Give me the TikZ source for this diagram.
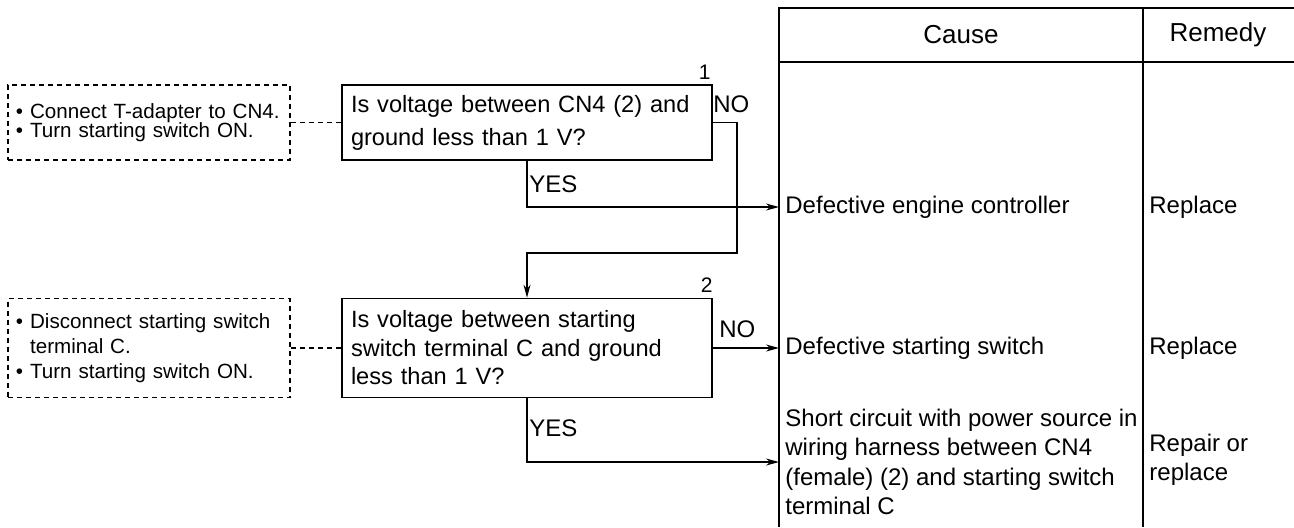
\documentclass[tikz,border=0pt]{standalone}
\usepackage{fontspec}
\setmainfont{Liberation Sans}
\usepackage{tikz}
\usetikzlibrary{
    arrows.meta,
    calc
}
\newcommand{\tightlines}{\lineskiplimit=-5pt\relax}

\begin{document}
\begin{tikzpicture}[x=0.5pt,y=-0.5pt,
    question/.style={draw, line width=0.85pt, text width=176pt, inner xsep=4.5pt, align=left},
    check/.style={draw, dash pattern=on 2.5pt off 2pt, line width=0.6pt, text width=133pt, inner xsep=4pt, align=left},
    entry/.style={anchor=west, inner xsep=3pt, align=left, font=\fontsize{12}{14.75}\selectfont},
    answer/.style={anchor=base west, inner sep=0pt, font=\fontsize{12}{14}\selectfont},
    stepno/.style={anchor=south east, inner sep=0pt, font=\fontsize{10.5}{12}\selectfont},
    flow/.style={line width=0.65pt, -{Stealth[length=6.5pt,width=3.5pt]}},
    link/.style={dash pattern=on 2.5pt off 2pt, line width=0.6pt},
    tabline/.style={line width=0.85pt}
]

\useasboundingbox (0,0) rectangle (1294,527);

% Checks to make
\node[check, minimum height=37.5pt, font=\fontsize{10.3}{9.2}\selectfont\tightlines] (chk1) at (149,122.5)
    {\textbullet\ Connect T-adapter to CN4.\\\textbullet\ Turn starting switch ON.};
\node[check, minimum height=49.5pt, font=\fontsize{10.3}{12.5}\selectfont] (chk2) at (149,348)
    {\textbullet\ Disconnect starting switch\\\phantom{\textbullet\ }terminal C.\\\textbullet\ Turn starting switch ON.};

% Questions
\node[question, minimum height=37.5pt, font=\fontsize{11.8}{16.5}\selectfont] (q1) at (527,122.5)
    {Is voltage between CN4 (2) and\\ground less than 1 V?};
\node[question, minimum height=49.5pt, font=\fontsize{11.8}{14.25}\selectfont] (q2) at (527,348)
    {Is voltage between starting\\switch terminal C and ground\\less than 1 V?};

% Step numbers
\node[stepno] (num1) at ($(q1.north east)+(-2,-4)$) {1};
\node[stepno] (num2) at ($(q2.north east)+(0,-5)$) {2};

% Table frame
\draw[tabline] (779,527) -- (779,8) -- (1294,8);
\draw[tabline] (779,62) -- (1294,62);
\draw[tabline] (1143,8) -- (1143,527);

% Table heading
\node[font=\fontsize{13}{15}\selectfont] (cause) at (961,35) {Cause};
\node[font=\fontsize{13}{15}\selectfont] (remedy) at (1218,35) {Remedy};

% Causes
\node[entry] (c1) at (779,207) {Defective engine controller};
\node[entry] (c2) at (779,348) {Defective starting switch};
\node[entry] (c3) at (779,462) {Short circuit with power source in\\wiring harness between CN4\\(female) (2) and starting switch\\terminal C};

% Remedies
\node[entry] (r1) at (1143,207) {Replace};
\node[entry] (r2) at (1143,348) {Replace};
\node[entry] (r3) at (1143,460) {Repair or\\replace};

% Dashed links
\draw[link] (chk1.east) -- (q1.west);
\draw[link] (chk2.east) -- (q2.west);

% Flow lines
\coordinate (turn1) at (737,253);
\draw[flow] (q1.south) |- (c1.west);
\draw[flow] (q1.east) -| (turn1) -| (q2.north);
\draw[flow] (q2.east) -- (c2.west);
\draw[flow] (q2.south) |- (c3.west);

% Answers
\node[answer] (no1) at ($(q1.east)+(0,-10)$) {NO};
\node[answer] (no2) at ($(q2.east)+(6,-11)$) {NO};
\node[answer] (yes1) at ($(q1.south)+(2,32)$) {YES};
\node[answer] (yes2) at ($(q2.south)+(2,38)$) {YES};

\end{tikzpicture}
\end{document}
